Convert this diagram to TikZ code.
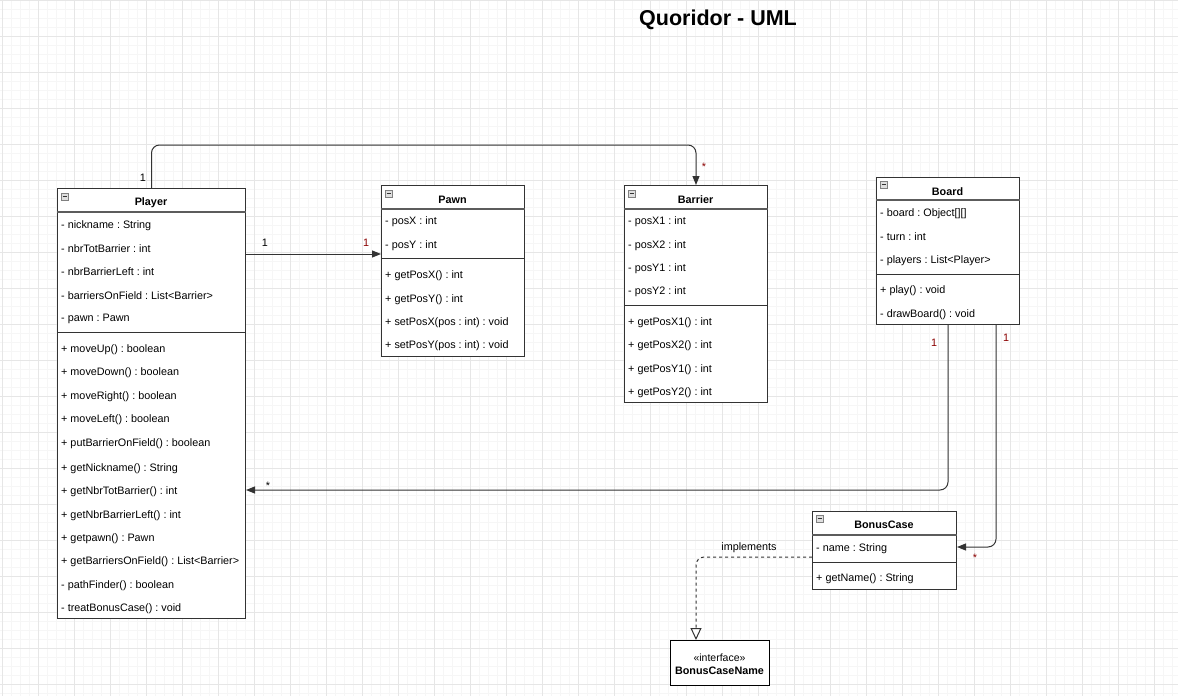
\documentclass[tikz,border=0pt]{standalone}
\usepackage{fontspec}
\setmainfont{Liberation Sans}
\usetikzlibrary{arrows.meta}
\definecolor{linec}{HTML}{333333}
\definecolor{multred}{HTML}{8B0000}
\definecolor{minorg}{HTML}{F6F6F6}
\definecolor{majorg}{HTML}{E6E6E6}
\frenchspacing
\begin{document}
\begin{tikzpicture}[x=1pt,y=-1pt,
  classbox/.style={draw=linec, line width=1pt, fill=white, inner sep=0pt, anchor=north west},
  sepline/.style={draw=linec, line width=1pt},
  hdrline/.style={draw=linec!80, line width=1.3pt},
  row/.style={anchor=west, inner sep=0pt, yshift=-1.5pt, font=\fontsize{10.8}{12}\selectfont},
  ctitle/.style={inner sep=0pt, yshift=-1.5pt, font=\bfseries\fontsize{10.8}{12}\selectfont},
  mult/.style={inner sep=0pt, yshift=-1pt, font=\fontsize{10.8}{12}\selectfont},
  assoc/.style={draw=linec, line width=1pt, rounded corners=8pt, -{Triangle[length=9pt,width=7pt]}},
  realize/.style={draw=linec, line width=1pt, dash pattern=on 3pt off 3pt, rounded corners=8pt, -{Triangle[open,length=12pt,width=11pt,fill=white]}},
  icon/.style={draw=gray, fill=gray!25, line width=0.6pt}
]
\useasboundingbox (0,0) rectangle (1178,696);
\fill[white] (0,0) rectangle (1178,696);
% grid
\foreach \i in {0,...,131} {\draw[minorg, line width=0.6pt] ({2.7+9*\i},0) -- ({2.7+9*\i},696);}
\foreach \i in {0,...,77} {\draw[minorg, line width=0.6pt] (0,{0.7+9*\i}) -- (1178,{0.7+9*\i});}
\foreach \i in {0,...,32} {\draw[majorg, line width=0.7pt] ({2.7+36*\i},0) -- ({2.7+36*\i},696);}
\foreach \i in {0,...,19} {\draw[majorg, line width=0.7pt] (0,{0.7+36*\i}) -- (1178,{0.7+36*\i});}

% title
\node[inner sep=0pt, font=\bfseries\fontsize{21.5}{24}\selectfont] (title) at (718,20) {Quoridor - UML};

% ---------- Player ----------
\node[classbox, minimum width=188pt, minimum height=430pt] (player) at (57,188) {};
\draw[hdrline] (player.west |- 0,212) -- (player.east |- 0,212);
\draw[sepline] (player.west |- 0,332) -- (player.east |- 0,332);
\draw[icon] (61,193) rectangle (68,200); \draw[linec, line width=0.6pt] (62.5,196.5) -- (66.5,196.5);
\node[ctitle] (playert) at (151,201) {Player};
\foreach \y/\t in {224/{- nickname : String}, 247/{- nbrTotBarrier : int}, 270/{- nbrBarrierLeft : int}, 294/{- barriersOnField : List<Barrier>}, 317/{- pawn : Pawn},
  348/{+ moveUp() : boolean}, 371/{+ moveDown() : boolean}, 395/{+ moveRight() : boolean}, 418/{+ moveLeft() : boolean}, 442/{+ putBarrierOnField() : boolean},
  467/{+ getNickname() : String}, 490/{+ getNbrTotBarrier() : int}, 514/{+ getNbrBarrierLeft() : int}, 537/{+ getpawn() : Pawn},
  560/{+ getBarriersOnField() : List<Barrier>}, 584/{- pathFinder() : boolean}, 607/{- treatBonusCase() : void}}
  {\node[row] at (61,\y) {\t};}

% ---------- Pawn ----------
\node[classbox, minimum width=143pt, minimum height=171pt] (pawn) at (381,185) {};
\draw[hdrline] (pawn.west |- 0,209) -- (pawn.east |- 0,209);
\draw[sepline] (pawn.west |- 0,258) -- (pawn.east |- 0,258);
\draw[icon] (385,190) rectangle (392,197); \draw[linec, line width=0.6pt] (386.5,193.5) -- (390.5,193.5);
\node[ctitle] (pawnt) at (452.5,198) {Pawn};
\foreach \y/\t in {220/{- posX : int}, 244/{- posY : int}, 274/{+ getPosX() : int}, 298/{+ getPosY() : int}, 321/{+ setPosX(pos : int) : void}, 344/{+ setPosY(pos : int) : void}}
  {\node[row] at (385,\y) {\t};}

% ---------- Barrier ----------
\node[classbox, minimum width=143pt, minimum height=217pt] (barrier) at (624,185) {};
\draw[hdrline] (barrier.west |- 0,209) -- (barrier.east |- 0,209);
\draw[sepline] (barrier.west |- 0,305) -- (barrier.east |- 0,305);
\draw[icon] (628,190) rectangle (635,197); \draw[linec, line width=0.6pt] (629.5,193.5) -- (633.5,193.5);
\node[ctitle] (barriert) at (695.5,198) {Barrier};
\foreach \y/\t in {220/{- posX1 : int}, 244/{- posX2 : int}, 267/{- posY1 : int}, 290/{- posY2 : int}, 321/{+ getPosX1() : int}, 344/{+ getPosX2() : int}, 368/{+ getPosY1() : int}, 391/{+ getPosY2() : int}}
  {\node[row] at (628,\y) {\t};}

% ---------- Board ----------
\node[classbox, minimum width=143pt, minimum height=147pt] (board) at (876,177) {};
\draw[hdrline] (board.west |- 0,200) -- (board.east |- 0,200);
\draw[sepline] (board.west |- 0,274) -- (board.east |- 0,274);
\draw[icon] (880,181) rectangle (887,188); \draw[linec, line width=0.6pt] (881.5,184.5) -- (885.5,184.5);
\node[ctitle] (boardt) at (947.5,190) {Board};
\foreach \y/\t in {212/{- board : Object[][]}, 235/{- turn : int}, 259/{- players : List<Player>}, 289/{+ play() : void}, 313/{- drawBoard() : void}}
  {\node[row] at (880,\y) {\t};}

% ---------- BonusCase ----------
\node[classbox, minimum width=144pt, minimum height=78pt] (bonus) at (812,511) {};
\draw[hdrline] (bonus.west |- 0,535) -- (bonus.east |- 0,535);
\draw[sepline] (bonus.west |- 0,562) -- (bonus.east |- 0,562);
\draw[icon] (816,515) rectangle (823,522); \draw[linec, line width=0.6pt] (817.5,518.5) -- (821.5,518.5);
\node[ctitle] (bonust) at (884,523) {BonusCase};
\node[row] at (816,547) {- name : String};
\node[row] at (816,577) {+ getName() : String};

% ---------- Interface ----------
\node[draw=black, line width=1pt, fill=white, minimum width=99pt, minimum height=45pt, inner sep=0pt, anchor=north west] (iface) at (670,640) {};
\node[inner sep=0pt, yshift=-1pt, font=\fontsize{10.5}{12}\selectfont] (ifs) at (719.5,657) {«interface»};
\node[inner sep=0pt, yshift=-1pt, font=\bfseries\fontsize{10.8}{12}\selectfont] (ifn) at (719.5,669.5) {BonusCaseName};

% ---------- connectors ----------
\coordinate (ytop) at (0,145);
\coordinate (ypawn) at (0,254);
\coordinate (yplayer) at (0,490);
\coordinate (ybonus) at (0,547);
\coordinate (yimpl) at (0,557);
\coordinate (xboard2) at (996,0);
\coordinate (ximpl) at (696,0);

\draw[assoc] (player.north) |- (barrier.north |- ytop) -- (barrier.north);
\draw[assoc] (player.east |- ypawn) -- (pawn.west |- ypawn);
\draw[assoc] (board.south) |- (player.east |- yplayer);
\draw[assoc] (board.south -| xboard2) |- (bonus.east |- ybonus);
\draw[realize] (bonus.west |- yimpl) -| (iface.north -| ximpl);

% multiplicities
\node[mult] (m1) at (143,177) {1};
\node[mult, text=multred] (m2) at (704,166) {*};
\node[mult] (m3) at (265,242) {1};
\node[mult, text=multred] (m4) at (366,242) {1};
\node[mult, text=multred] (m5) at (934,342) {1};
\node[mult] (m6) at (268,485) {*};
\node[mult, text=multred] (m7) at (1006,337) {1};
\node[mult, text=multred] (m8) at (975,557) {*};
\node[mult] (impl) at (749,547) {implements};
\end{tikzpicture}
\end{document}
